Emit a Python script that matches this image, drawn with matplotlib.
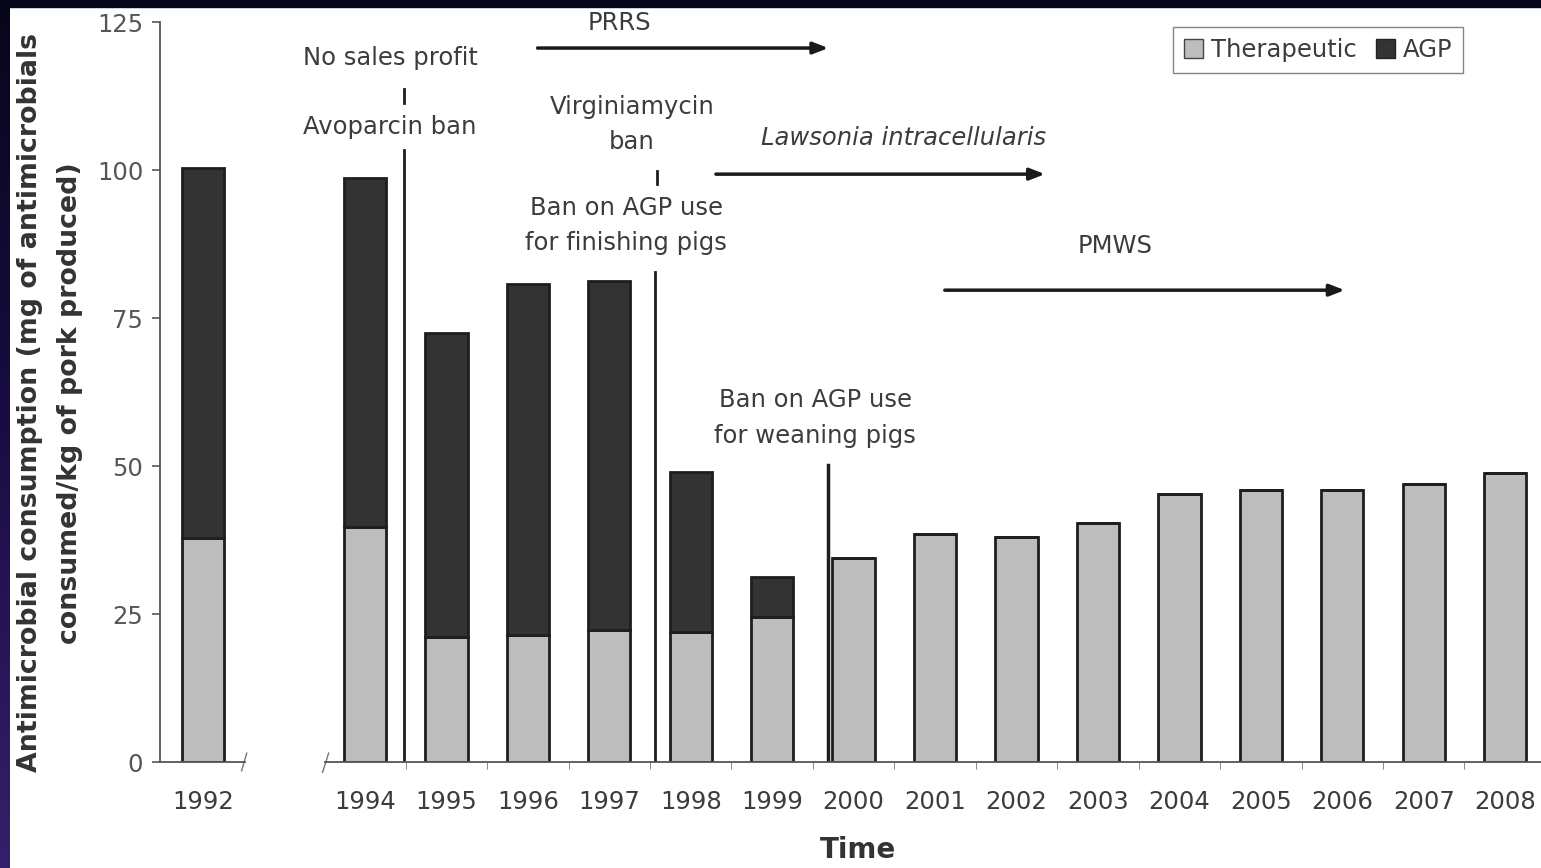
import numpy as np
import matplotlib.pyplot as plt
from matplotlib.patches import Patch
from matplotlib.colors import LinearSegmentedColormap

# данные
years = ['1992', '1994', '1995', '1996', '1997', '1998', '1999', '2000',
         '2001', '2002', '2003', '2004', '2005', '2006', '2007', '2008']
therapeutic = [37.8, 39.7, 21.1, 21.5, 22.3, 22.0, 24.5, 34.5,
               38.5, 38.0, 40.4, 45.3, 45.9, 45.9, 47.0, 48.8]
agp = [62.5, 58.9, 51.4, 59.2, 59.0, 27.0, 6.8, 0, 0, 0, 0, 0, 0, 0, 0, 0]
y_ticks = [0, 25, 50, 75, 100, 125]

c_ther = '#bdbdbd'
c_agp = '#333333'
c_edge = '#1e1e1e'
c_text = '#3c3c3c'
fs = 17.5

plt.rcParams['font.family'] = ['DejaVu Sans']

W, H = 1541, 868
fig = plt.figure(figsize=(W / 100, H / 100), dpi=100)


def fx(px):
    return px / W


def fy(py):
    return 1 - py / H


y0, y1 = 762, 22
ax1 = fig.add_axes([fx(160), fy(y0), fx(245 - 160), (y0 - y1) / H])
ax2 = fig.add_axes([fx(325), fy(y0), fx(W - 325), (y0 - y1) / H])

# левый сегмент (1992)
ax1.bar([0], [therapeutic[0]], width=0.52, color=c_ther, edgecolor=c_edge, linewidth=2)
ax1.bar([0], [agp[0]], bottom=[therapeutic[0]], width=0.52, color=c_agp,
        edgecolor=c_edge, linewidth=2)
ax1.set_xlim(-0.53, 0.515)
ax1.set_ylim(0, 125)
ax1.set_yticks(y_ticks)
ax1.set_xticks([0])
ax1.set_xticklabels([years[0]])

# правый сегмент (1994-2008)
x2 = np.arange(len(years) - 1)
ax2.bar(x2, therapeutic[1:], width=0.52, color=c_ther, edgecolor=c_edge, linewidth=2)
ax2.bar(x2, agp[1:], bottom=therapeutic[1:], width=0.52, color=c_agp,
        edgecolor=c_edge, linewidth=2)
ax2.set_xlim(-0.49, 14.44)
ax2.set_ylim(0, 125)
ax2.set_yticks([])
ax2.set_xticks(x2)
ax2.set_xticklabels(years[1:])
ax2.set_xticks(x2[:-1] + 0.5, minor=True)

for ax in (ax1, ax2):
    ax.spines['top'].set_visible(False)
    ax.spines['right'].set_visible(False)
    ax.spines['bottom'].set_color('#555555')
    ax.spines['bottom'].set_linewidth(1.3)
    ax.patch.set_alpha(0)
    ax.tick_params(axis='x', which='major', length=0, pad=20, labelsize=fs,
                   labelcolor=c_text)
    ax.tick_params(axis='x', which='minor', length=5, color='#777777', direction='out')
ax2.spines['left'].set_visible(False)
ax1.spines['left'].set_color('#555555')
ax1.spines['left'].set_linewidth(1.3)
ax1.tick_params(axis='y', length=6, width=1.2, color='#555555', labelsize=fs,
                labelcolor='#555555', pad=6)

# разрывы оси
ax1.plot([0.96, 1.02], [-0.012, 0.012], transform=ax1.transAxes, color='#777777',
         lw=1, clip_on=False)
ax2.plot([-0.002, 0.003], [-0.014, 0.012], transform=ax2.transAxes, color='#777777',
         lw=1, clip_on=False)

# вертикальные линии событий
ax2.plot([0.48, 0.48], [0, 103.4], color=c_edge, lw=2)
ax2.plot([3.56, 3.56], [0, 82.8], color=c_edge, lw=2)
ax2.plot([5.69, 5.69], [0, 50.2], color=c_edge, lw=2.5)
ax2.plot([0.48, 0.48], [111.3, 113.6], color=c_edge, lw=2)
ax2.plot([3.59, 3.59], [97.6, 99.8], color=c_edge, lw=2)

# подписи
ka = dict(ha='center', va='center', fontsize=fs, color=c_text, clip_on=False)
ax2.text(0.31, 118.9, 'No sales profit', **ka)
ax2.text(0.31, 107.3, 'Avoparcin ban', **ka)
ax2.text(3.13, 124.8, 'PRRS', **ka)
ax2.text(3.28, 110.6, 'Virginiamycin', **ka)
ax2.text(3.28, 104.7, 'ban', **ka)
ax2.text(3.21, 93.6, 'Ban on AGP use', **ka)
ax2.text(3.21, 87.7, 'for finishing pigs', **ka)
ax2.text(6.61, 105.4, 'Lawsonia intracellularis', style='italic', **ka)
ax2.text(9.21, 87.2, 'PMWS', **ka)
ax2.text(5.53, 61.1, 'Ban on AGP use', **ka)
ax2.text(5.53, 55.1, 'for weaning pigs', **ka)

arrow = dict(arrowstyle='-|>,head_length=0.9,head_width=0.35', color='#1a1a1a', lw=2.5,
             shrinkA=0, shrinkB=0)
ax2.annotate('', xy=(5.69, 120.6), xytext=(2.12, 120.6), arrowprops=arrow,
             annotation_clip=False)
ax2.annotate('', xy=(8.35, 99.3), xytext=(4.31, 99.3), arrowprops=arrow)
ax2.annotate('', xy=(12.03, 79.7), xytext=(7.12, 79.7), arrowprops=arrow)

# подписи осей
fig.text(fx(30), fy(403), 'Antimicrobial consumption (mg of antimicrobials',
         rotation=90, ha='center', va='center', fontsize=19.3, fontweight='bold',
         color='#333333')
fig.text(fx(70), fy(403), 'consumed/kg of pork produced)',
         rotation=90, ha='center', va='center', fontsize=19.3, fontweight='bold',
         color='#333333')
fig.text(fx(858), fy(850), 'Time', ha='center', va='center', fontsize=20,
         fontweight='bold', color='#333333')

# легенда
handles = [Patch(facecolor=c_ther, edgecolor='#444444', label='Therapeutic'),
           Patch(facecolor=c_agp, edgecolor='#222222', label='AGP')]
fig.legend(handles=handles, loc='upper right', bbox_to_anchor=(fx(1463), fy(27)),
           borderaxespad=0, ncol=2, fontsize=fs, frameon=True, fancybox=False,
           edgecolor='#666666', handlelength=0.8, handleheight=0.8,
           handletextpad=0.3, columnspacing=0.8, borderpad=0.45, labelcolor=c_text)

# тёмная рамка
fig.patches.append(plt.Rectangle((0, fy(7)), 1, 7 / H, transform=fig.transFigure,
                                 color='#06061a', zorder=10))
axb = fig.add_axes([0, 0, fx(10), 1])
grad = np.linspace(0, 1, 256).reshape(-1, 1)
cm = LinearSegmentedColormap.from_list('b', ['#06061a', '#1a0d45', '#34206a'])
axb.imshow(grad, aspect='auto', cmap=cm, extent=[0, 1, 0, 1], origin='upper')
axb.axis('off')

fig.savefig('out.png', dpi=100)
